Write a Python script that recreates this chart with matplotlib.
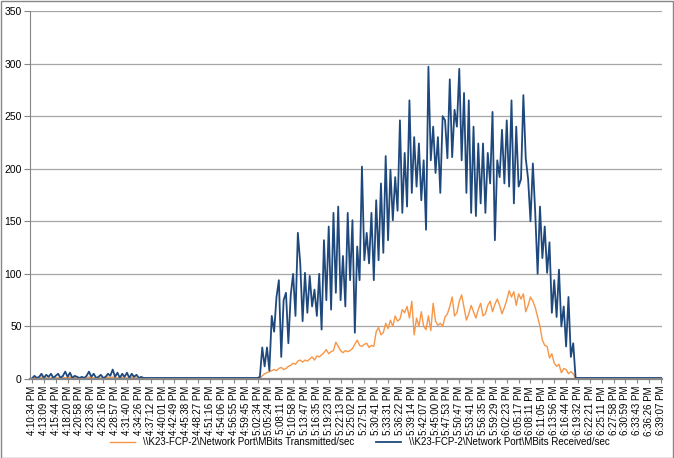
import numpy as np
import matplotlib
matplotlib.use("Agg")
import matplotlib.pyplot as plt
from matplotlib.patches import Rectangle

plt.rcParams['font.family'] = ['Liberation Sans Narrow', 'Liberation Sans', 'DejaVu Sans']

# one tick label every 5 samples
tick_labels = [
    '4:10:34 PM', '4:13:09 PM', '4:15:44 PM', '4:18:20 PM', '4:20:58 PM', '4:23:36 PM',
    '4:26:16 PM', '4:28:57 PM', '4:31:40 PM', '4:34:26 PM', '4:37:12 PM', '4:40:01 PM',
    '4:42:49 PM', '4:45:38 PM', '4:48:27 PM', '4:51:16 PM', '4:54:06 PM', '4:56:55 PM',
    '4:59:45 PM', '5:02:34 PM', '5:05:24 PM', '5:08:11 PM', '5:10:58 PM', '5:13:47 PM',
    '5:16:35 PM', '5:19:23 PM', '5:22:13 PM', '5:25:02 PM', '5:27:51 PM', '5:30:41 PM',
    '5:33:31 PM', '5:36:22 PM', '5:39:14 PM', '5:42:07 PM', '5:45:00 PM', '5:47:53 PM',
    '5:50:47 PM', '5:53:41 PM', '5:56:35 PM', '5:59:29 PM', '6:02:23 PM', '6:05:17 PM',
    '6:08:11 PM', '6:11:05 PM', '6:13:56 PM', '6:16:44 PM', '6:19:32 PM', '6:22:21 PM',
    '6:25:11 PM', '6:27:58 PM', '6:30:59 PM', '6:33:43 PM', '6:36:26 PM', '6:39:07 PM',
]

transmitted = [
    1, 1, 0.5, 1, 2, 1, 1, 0.5, 1, 2,
    1, 1, 1, 2, 1, 1, 2, 1, 1, 1,
    0.5, 1, 1, 1, 2, 1, 1, 0.5, 1, 1,
    1, 1, 2, 1, 2, 1, 1, 1, 2, 1,
    1, 1, 2, 1, 1, 0.5, 1, 0.5, 0.5, 0.5,
    0.5, 0.5, 0.5, 0.5, 0.5, 0.5, 0.5, 0.5, 0.5, 0.5,
    0.5, 0.5, 0.5, 0.5, 0.5, 0.5, 0.5, 0.5, 0.5, 0.5,
    0.5, 0.5, 0.5, 0.5, 0.5, 0.5, 0.5, 0.5, 0.5, 0.5,
    0.5, 0.5, 0.5, 0.5, 0.5, 0.5, 0.5, 0.5, 0.5, 0.5,
    0.5, 0.5, 0.5, 0.5, 0.5, 0.5, 0.5, 3, 5, 6,
    7, 8, 9, 8, 10, 11, 9, 10, 12, 13,
    15, 14, 17, 18, 16, 18, 17, 19, 21, 18,
    22, 21, 23, 25, 28, 24, 26, 27, 35, 31,
    27, 25, 27, 26, 27, 29, 33, 37, 32, 31,
    33, 34, 30, 32, 31, 45, 49, 42, 44, 53,
    48, 56, 50, 60, 55, 57, 66, 63, 69, 58,
    74, 42, 58, 50, 64, 50, 47, 60, 46, 72,
    55, 51, 53, 50, 59, 62, 69, 78, 60, 63,
    74, 80, 68, 56, 62, 70, 64, 58, 66, 72,
    60, 62, 70, 74, 64, 71, 76, 70, 62, 68,
    75, 84, 78, 83, 70, 81, 76, 81, 64, 70,
    78, 74, 68, 59, 50, 37, 32, 31, 20, 24,
    15, 12, 14, 6, 10, 9, 5, 7, 5, 0.5,
    0.5, 0.5, 0.5, 0.5, 0.5, 0.5, 0.5, 0.5, 0.5, 0.5,
    0.5, 0.5, 0.5, 0.5, 0.5, 0.5, 0.5, 0.5, 0.5, 0.5,
    0.5, 0.5, 0.5, 0.5, 0.5, 0.5, 0.5, 0.5, 0.5, 0.5,
    0.5, 0.5, 0.5, 0.5, 0.5, 0.5,
]

received = [
    0.5, 3, 1, 2, 5, 1, 4, 2, 5, 1,
    3, 5, 1, 3, 7, 2, 6, 1, 3, 2,
    1, 2, 1, 3, 7, 2, 5, 1, 2, 4,
    1, 2, 5, 3, 9, 2, 6, 1, 5, 2,
    6, 1, 5, 2, 4, 1, 2, 1, 1, 1,
    1, 1, 1, 1, 1, 1, 1, 1, 1, 1,
    1, 1, 1, 1, 1, 1, 1, 1, 1, 1,
    1, 1, 1, 1, 1, 1, 1, 1, 1, 1,
    1, 1, 1, 1, 1, 1, 1, 1, 1, 1,
    1, 1, 1, 1, 1, 1, 2, 30, 12, 30,
    8, 60, 45, 78, 94, 21, 75, 82, 34, 80,
    100, 60, 139, 110, 55, 101, 63, 98, 69, 85,
    60, 100, 47, 132, 75, 145, 66, 158, 82, 164,
    75, 117, 69, 158, 94, 151, 44, 126, 94, 202,
    113, 139, 110, 158, 94, 170, 113, 186, 120, 212,
    132, 199, 151, 192, 160, 246, 158, 215, 164, 265,
    177, 230, 183, 224, 170, 208, 142, 297, 208, 240,
    196, 230, 177, 250, 246, 210, 285, 211, 256, 240,
    295, 208, 272, 177, 265, 158, 240, 155, 224, 167,
    224, 158, 215, 186, 254, 132, 208, 192, 237, 186,
    246, 183, 265, 167, 240, 183, 190, 270, 210, 190,
    150, 205, 158, 100, 164, 115, 145, 101, 130, 63,
    94, 59, 104, 50, 69, 31, 78, 21, 34, 1,
    1, 1, 1, 1, 1, 1, 1, 1, 1, 1,
    1, 1, 1, 1, 1, 1, 1, 1, 1, 1,
    1, 1, 1, 1, 1, 1, 1, 1, 1, 1,
    1, 1, 1, 1, 1, 1,
]

fig = plt.figure(figsize=(6.74, 4.58), dpi=100)
ax = fig.add_axes([30 / 674, 1 - 379 / 458, 632 / 674, 368 / 458])

ax.plot(np.arange(len(transmitted)), transmitted, color='#F79646', lw=1.0,
        label='\\\\K23-FCP-2\\Network Port\\MBits Transmitted/sec')
ax.plot(np.arange(len(received)), received, color='#1F497D', lw=1.3,
        label='\\\\K23-FCP-2\\Network Port\\MBits Received/sec')

ax.set_ylim(0, 350)
ax.set_yticks(range(0, 351, 50))
ax.set_xlim(-0.84, 265.4)
ax.set_xticks(np.arange(len(tick_labels)) * 5)
ax.set_xticklabels(tick_labels, rotation=90, fontsize=7)
ax.tick_params(axis='y', labelsize=7.5, length=4, color='#868686', pad=2)
ax.tick_params(axis='x', length=3, color='#868686', pad=2)

ax.grid(axis='y', color='#A6A6A6', lw=0.9)
ax.set_axisbelow(True)
for side in ['top', 'right']:
    ax.spines[side].set_visible(False)
ax.spines['left'].set_color('#868686')
ax.spines['bottom'].set_color('#868686')
ax.spines['bottom'].set_linewidth(1.6)

fig.legend(loc='center', bbox_to_anchor=(0.534, 1 - 442 / 458), ncol=2, frameon=False,
           fontsize=7, handlelength=2.6, columnspacing=2.2)

fig.patches.append(Rectangle((0.001, 0.001), 0.997, 0.997, transform=fig.transFigure,
                             fill=False, edgecolor='#868686', lw=1))

fig.savefig('out.png', dpi=100)
